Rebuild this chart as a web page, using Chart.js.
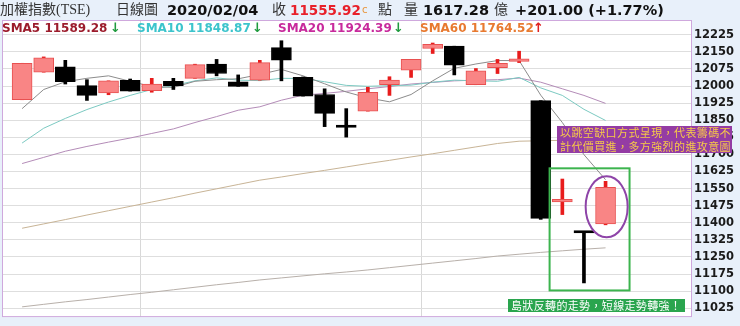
<!DOCTYPE html>
<html><head><meta charset="utf-8">
<script src="https://cdn.jsdelivr.net/npm/chart.js@4.4.1/dist/chart.umd.min.js"></script>
<style>
html,body{margin:0;padding:0;background:#e8f0fa;}
#wrap{position:relative;width:740px;height:326px;overflow:hidden;background:#e8f0fa;}
canvas{position:absolute;left:0;top:0;}
.t{position:absolute;white-space:nowrap;line-height:1;}
.cj{font-family:"Liberation Serif","Noto Sans CJK TC",serif;font-size:14px;color:#333;}
.b{font-family:"DejaVu Sans",Verdana,sans-serif;font-weight:bold;font-size:14.5px;color:#111;}
.lg{font-family:"DejaVu Sans",Verdana,sans-serif;font-weight:bold;font-size:12px;}
.ar{font-family:"DejaVu Sans",sans-serif;font-weight:bold;font-size:13px;}
.note{position:absolute;font-family:"Noto Sans CJK TC",sans-serif;font-size:11px;white-space:nowrap;box-sizing:border-box;}
</style></head>
<body>
<div id="wrap">
<canvas id="c" width="740" height="326"></canvas>
<div class="t cj" style="left:0px;top:3px;">加權指數(TSE)</div>
<div class="t cj" style="left:116px;top:3px;">日線圖</div>
<div class="t b" style="left:167px;top:3px;">2020/02/04</div>
<div class="t cj" style="left:272px;top:3px;">收</div>
<div class="t b" style="left:290px;top:3.5px;font-size:13.5px;color:#e8202a;">11555.92</div>
<div class="t" style="left:362px;top:5px;font-family:'DejaVu Sans';font-size:10px;color:#e8953a;">c</div>
<div class="t cj" style="left:378px;top:3px;">點</div>
<div class="t cj" style="left:404px;top:3px;">量</div>
<div class="t b" style="left:423px;top:3px;">1617.28</div>
<div class="t cj" style="left:494px;top:3px;">億</div>
<div class="t b" style="left:515px;top:3px;">+201.00 (+1.77%)</div>

<div class="t lg" style="left:2px;top:22px;color:#9c1c2c;">SMA5 11589.28</div>
<div class="t ar" style="left:110px;top:21px;color:#1f9a3e;">↓</div>
<div class="t lg" style="left:137px;top:22px;color:#3cc4cc;">SMA10 11848.87</div>
<div class="t ar" style="left:252px;top:21px;color:#1f9a3e;">↓</div>
<div class="t lg" style="left:278px;top:22px;color:#c82a9c;">SMA20 11924.39</div>
<div class="t ar" style="left:393px;top:21px;color:#1f9a3e;">↓</div>
<div class="t lg" style="left:420px;top:22px;color:#e87a30;">SMA60 11764.52</div>
<div class="t ar" style="left:533px;top:21px;color:#e02020;">↑</div>

<div class="note" style="left:557px;top:126px;width:175px;height:27px;background:#943ca4;color:#f7c948;line-height:13.5px;padding-left:3px;letter-spacing:0.4px;">以跳空缺口方式呈現，代表籌碼不<br>計代價買進，多方強烈的進攻意圖</div>
<div class="note" style="left:508px;top:299px;width:177px;height:13px;background:#2aa54e;color:#fff;line-height:13px;padding-left:3px;letter-spacing:0.35px;">島狀反轉的走勢，短線走勢轉強！</div>
</div>
<script>
// ---- data ----
const dates = ['2019/12/17','2019/12/18','2019/12/19','2019/12/20','2019/12/23','2019/12/24','2019/12/25',
  '2019/12/26','2019/12/27','2019/12/30','2019/12/31','2020/01/02','2020/01/03','2020/01/06','2020/01/07',
  '2020/01/08','2020/01/09','2020/01/10','2020/01/13','2020/01/14','2020/01/15','2020/01/16','2020/01/17',
  '2020/01/20','2020/01/30','2020/01/31','2020/02/03','2020/02/04'];
const opens  = [11940,12061,12084,12002,11970,12025,11980,12021,12034,12097,12019,12026,12169,12038,
                11963,11818,11890,12006,12070,12165,12175,12006,12081,12108,11936,11492,11358,11395];
const highs  = [12100,12128,12113,12028,12023,12031,12034,12034,12096,12117,12049,12113,12199,12040,
                11988,11901,11995,12041,12117,12189,12175,12077,12117,12153,11936,11592,11360,11582];
const lows   = [11940,12061,12009,11937,11962,11978,11973,11985,12034,12045,11999,12026,12023,11956,
                11822,11776,11890,11959,12038,12143,12049,12006,12055,12103,11415,11436,11136,11391];
const closes = [12100,12124,12019,11959,12023,11978,12009,12002,12094,12055,11999,12103,12114,11956,
                11880,11818,11973,12026,12117,12183,12092,12067,12100,12120,11419,11496,11355,11556];
const sma5   = [11901,11985,12019,12034,12045,12021,11998,11994,12021,12028,12032,12051,12073,12045,
                12010,11974,11948,11931,11963,12023,12078,12097,12112,12112,11960,11840,11699,11589];
const sma10  = [11750,11815,11858,11897,11930,11959,11985,12002,12023,12036,12026,12024,12034,12033,
                12019,12003,11999,12002,12004,12017,12026,12023,12021,12038,11992,11959,11898,11849];
const sma20  = [11660,11687,11714,11735,11754,11772,11792,11812,11840,11866,11894,11909,11938,11960,
                11968,11977,11988,11998,12009,12016,12023,12026,12028,12035,12017,11988,11959,11924];
const sma60  = [11376,11395,11414,11434,11453,11472,11491,11510,11530,11549,11568,11587,11601,11616,
                11630,11645,11660,11674,11689,11703,11718,11733,11748,11758,11760,11762,11763,11765];
const smaLong= [11031,11042,11053,11063,11074,11085,11095,11106,11117,11128,11138,11149,11158,11167,
                11176,11184,11193,11203,11213,11223,11233,11243,11254,11262,11270,11277,11284,11290];
const yTicks = [11025,11100,11175,11250,11325,11400,11475,11550,11625,11700,11775,11850,11925,12000,12075,12150,12225];
const monthLines = [0, 11, 26];

// ---- build ----
const up = closes.map((c,i)=> c > opens[i]);
const bodies = dates.map((d,i)=>({x:i, y:[opens[i], closes[i]]}));
const wicks  = dates.map((d,i)=>({x:i, y:[lows[i], highs[i]]}));
const line = (arr)=> arr.map((v,i)=>({x:i, y:v}));

const bgPlugin = {
  id:'bg',
  beforeDraw(ch){
    const {ctx, chartArea:a} = ch;
    ctx.save();
    ctx.fillStyle = '#e8f0fa';
    ctx.fillRect(0,0,ch.width,ch.height);
    ctx.fillStyle = '#ffffff';
    ctx.fillRect(a.left, a.top, a.right-a.left, a.bottom-a.top);
    ctx.restore();
  },
  afterDraw(ch){
    const {ctx, chartArea:a, scales:{x,y}} = ch;
    ctx.save();
    ctx.strokeStyle = '#cfa8dd';
    ctx.lineWidth = 1;
    ctx.strokeRect(a.left+0.5, a.top+0.5, a.right-a.left-1, a.bottom-a.top-1);
    // green frame around the island reversal
    ctx.strokeStyle = '#3cb44e';
    ctx.lineWidth = 2;
    const gx1 = x.getPixelForValue(24.41), gx2 = x.getPixelForValue(28.11);
    const gy1 = y.getPixelForValue(11639), gy2 = y.getPixelForValue(11103);
    ctx.strokeRect(gx1, gy1, gx2-gx1, gy2-gy1);
    // purple ellipse around last candle
    ctx.strokeStyle = '#8e44a8';
    ctx.beginPath();
    ctx.ellipse(x.getPixelForValue(27.05), y.getPixelForValue(11470), 21, 30.5, 0, 0, Math.PI*2);
    ctx.stroke();
    ctx.restore();
  }
};

new Chart(document.getElementById('c'), {
  type:'bar',
  data:{
    datasets:[
      {type:'bar', label:'K', data:bodies, order:0, grouped:false, barThickness:20, minBarLength:2.5,
       backgroundColor: up.map(u=> u ? '#f98585' : '#000000'),
       borderColor: up.map(u=> u ? '#e85050' : '#000000'),
       borderWidth:1, borderSkipped:false},
      {type:'bar', label:'wick', data:wicks, order:0, grouped:false, barThickness:3,
       backgroundColor: up.map(u=> u ? '#e81c1c' : '#000000'), borderWidth:0},
      {type:'line', label:'SMA5', data:line(sma5), order:1, borderColor:'#8c8c8c', borderWidth:1, pointRadius:0, tension:0},
      {type:'line', label:'SMA10', data:line(sma10), order:1, borderColor:'#7ccac2', borderWidth:1, pointRadius:0, tension:0},
      {type:'line', label:'SMA20', data:line(sma20), order:1, borderColor:'#b48cb8', borderWidth:1, pointRadius:0, tension:0},
      {type:'line', label:'SMA60', data:line(sma60), order:1, borderColor:'#c8b496', borderWidth:1, pointRadius:0, tension:0},
      {type:'line', label:'long', data:line(smaLong), order:1, borderColor:'#b8b0aa', borderWidth:1, pointRadius:0, tension:0}
    ]
  },
  options:{
    responsive:false, animation:false,
    layout:{padding:{left:2, top:20, right:0, bottom:4}},
    plugins:{legend:{display:false}, tooltip:{enabled:false}},
    scales:{
      x:{type:'linear', min:-0.93, max:31, offset:false,
         afterBuildTicks: s => { s.ticks = monthLines.map(v=>({value:v})); },
         afterFit: s => { s.height = 0; },
         ticks:{display:false},
         grid:{color:'#d8d8d8', lineWidth:1, drawTicks:false},
         border:{display:false}},
      y:{position:'right', min:10986, max:12290,
         afterBuildTicks: s => { s.ticks = yTicks.map(v=>({value:v})); },
         afterFit: s => { s.width = 48; },
         ticks:{padding:2, color:'#1a1a1a', font:{family:'DejaVu Sans', weight:'bold', size:11.5},
                callback: v => String(v)},
         grid:{color:'#dedede', lineWidth:1, drawTicks:false},
         border:{display:false}}
    }
  },
  plugins:[bgPlugin]
});
</script>
</body></html>
